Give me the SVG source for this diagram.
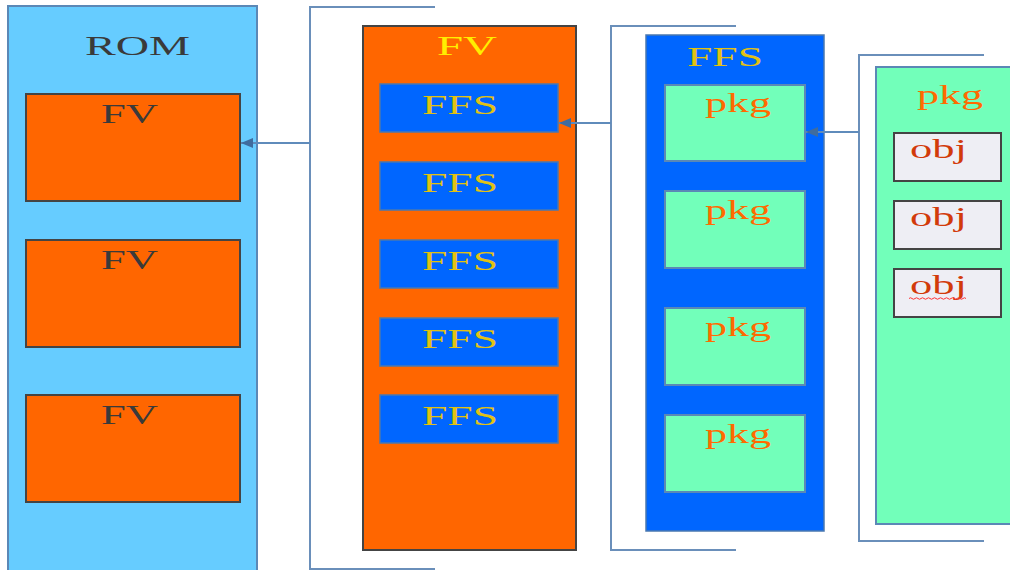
<svg xmlns="http://www.w3.org/2000/svg" width="1010" height="570" viewBox="0 0 1010 570">
  <style>
    .lbl { font-family: "Liberation Serif", "Times New Roman", serif; font-size: 27px; }
    .dark { fill: #3a3a3a; }
    .yel { fill: #FFEE00; }
    .gold { fill: #E2C213; }
    .org { fill: #FF6A00; }
    .red { fill: #D23A0A; }
    .rom { fill: #66CCFF; stroke: #5b88b6; stroke-width: 2; }
    .fvbox { fill: #FF6600; stroke: #444; stroke-width: 2; }
    .ffsbox { fill: #0066FF; stroke: #4a78b0; stroke-width: 1.5; }
    .pkgbox { fill: #72FFBA; stroke: #5b88b6; stroke-width: 2; }
    .objbox { fill: #EEEEF4; stroke: #444; stroke-width: 2; }
    .br { fill: none; stroke: #6a8fba; stroke-width: 2; }
    .link { fill: none; stroke: #5f8bbb; stroke-width: 2; }
  </style>
  <defs>
    <marker id="arr" viewBox="0 0 12 10" refX="12" refY="5" markerWidth="12" markerHeight="10" markerUnits="userSpaceOnUse" orient="auto">
      <path d="M0,0 L12,5 L0,10 Z" fill="#3f6c9e"/>
    </marker>
  </defs>

  <rect width="1010" height="570" fill="#ffffff"/>

  <!-- ROM holding three FVs -->
  <g id="rom">
    <rect class="rom" x="8" y="6" width="249" height="570"/>
    <text class="lbl dark" x="85" y="55" textLength="105" lengthAdjust="spacingAndGlyphs">ROM</text>
    <g id="rom-fv1">
      <rect class="fvbox" x="26" y="94" width="214" height="107"/>
      <text class="lbl dark" x="101" y="123" textLength="57" lengthAdjust="spacingAndGlyphs">FV</text>
    </g>
    <g id="rom-fv2">
      <rect class="fvbox" x="26" y="240" width="214" height="107"/>
      <text class="lbl dark" x="101" y="269" textLength="57" lengthAdjust="spacingAndGlyphs">FV</text>
    </g>
    <g id="rom-fv3">
      <rect class="fvbox" x="26" y="395" width="214" height="107"/>
      <text class="lbl dark" x="101" y="424" textLength="57" lengthAdjust="spacingAndGlyphs">FV</text>
    </g>
  </g>

  <!-- FV holding five FFS -->
  <g id="fv">
    <rect class="fvbox" x="363" y="26" width="213" height="524"/>
    <text class="lbl yel" x="437" y="55" textLength="60" lengthAdjust="spacingAndGlyphs">FV</text>
    <g id="fv-ffs1">
      <rect class="ffsbox" x="380" y="84" width="178" height="48"/>
      <text class="lbl gold" x="422" y="114" textLength="76" lengthAdjust="spacingAndGlyphs">FFS</text>
    </g>
    <g id="fv-ffs2">
      <rect class="ffsbox" x="380" y="162" width="178" height="48"/>
      <text class="lbl gold" x="422" y="192" textLength="76" lengthAdjust="spacingAndGlyphs">FFS</text>
    </g>
    <g id="fv-ffs3">
      <rect class="ffsbox" x="380" y="240" width="178" height="48"/>
      <text class="lbl gold" x="422" y="270" textLength="76" lengthAdjust="spacingAndGlyphs">FFS</text>
    </g>
    <g id="fv-ffs4">
      <rect class="ffsbox" x="380" y="318" width="178" height="48"/>
      <text class="lbl gold" x="422" y="348" textLength="76" lengthAdjust="spacingAndGlyphs">FFS</text>
    </g>
    <g id="fv-ffs5">
      <rect class="ffsbox" x="380" y="395" width="178" height="48"/>
      <text class="lbl gold" x="422" y="425" textLength="76" lengthAdjust="spacingAndGlyphs">FFS</text>
    </g>
  </g>

  <!-- FFS holding four pkgs -->
  <g id="ffs">
    <rect class="ffsbox" x="646" y="35" width="178" height="496"/>
    <text class="lbl gold" x="687" y="66" textLength="76" lengthAdjust="spacingAndGlyphs">FFS</text>
    <g id="ffs-pkg1">
      <rect class="pkgbox" x="665" y="85" width="140" height="76"/>
      <text class="lbl org" x="705" y="112" textLength="66" lengthAdjust="spacingAndGlyphs">pkg</text>
    </g>
    <g id="ffs-pkg2">
      <rect class="pkgbox" x="665" y="191" width="140" height="77"/>
      <text class="lbl org" x="705" y="219" textLength="66" lengthAdjust="spacingAndGlyphs">pkg</text>
    </g>
    <g id="ffs-pkg3">
      <rect class="pkgbox" x="665" y="308" width="140" height="77"/>
      <text class="lbl org" x="705" y="336" textLength="66" lengthAdjust="spacingAndGlyphs">pkg</text>
    </g>
    <g id="ffs-pkg4">
      <rect class="pkgbox" x="665" y="415" width="140" height="77"/>
      <text class="lbl org" x="705" y="443" textLength="66" lengthAdjust="spacingAndGlyphs">pkg</text>
    </g>
  </g>

  <!-- pkg holding three objs -->
  <g id="pkg">
    <rect class="pkgbox" x="876" y="67" width="140" height="457"/>
    <text class="lbl org" x="917" y="104" textLength="66" lengthAdjust="spacingAndGlyphs">pkg</text>
    <g id="pkg-obj1">
      <rect class="objbox" x="894" y="133" width="107" height="48"/>
      <text class="lbl red" x="910" y="158" textLength="57" lengthAdjust="spacingAndGlyphs">obj</text>
    </g>
    <g id="pkg-obj2">
      <rect class="objbox" x="894" y="201" width="107" height="48"/>
      <text class="lbl red" x="910" y="226" textLength="57" lengthAdjust="spacingAndGlyphs">obj</text>
    </g>
    <g id="pkg-obj3">
      <rect class="objbox" x="894" y="269" width="107" height="48"/>
      <text class="lbl red" x="910" y="294" textLength="57" lengthAdjust="spacingAndGlyphs">obj</text>
      <path d="M909,298.5 q1.5,-1.5 3,0 t3,0 t3,0 t3,0 t3,0 t3,0 t3,0 t3,0 t3,0 t3,0 t3,0 t3,0 t3,0 t3,0 t3,0 t3,0 t3,0 t3,0 t3,0" fill="none" stroke="#ff3333" stroke-width="1"/>
    </g>
  </g>

  <!-- expansion brackets and the arrows back to the expanded item -->
  <g id="connectors">
    <path class="br" d="M435,7 H310 V569 H435"/>
    <path class="br" d="M736,26 H611 V550 H736"/>
    <path class="br" d="M984,55 H859 V541 H984"/>
    <line class="link" x1="310" y1="143" x2="241" y2="143" marker-end="url(#arr)"/>
    <line class="link" x1="611" y1="123" x2="559" y2="123" marker-end="url(#arr)"/>
    <line class="link" x1="859" y1="132" x2="806" y2="132" marker-end="url(#arr)"/>
  </g>
</svg>
